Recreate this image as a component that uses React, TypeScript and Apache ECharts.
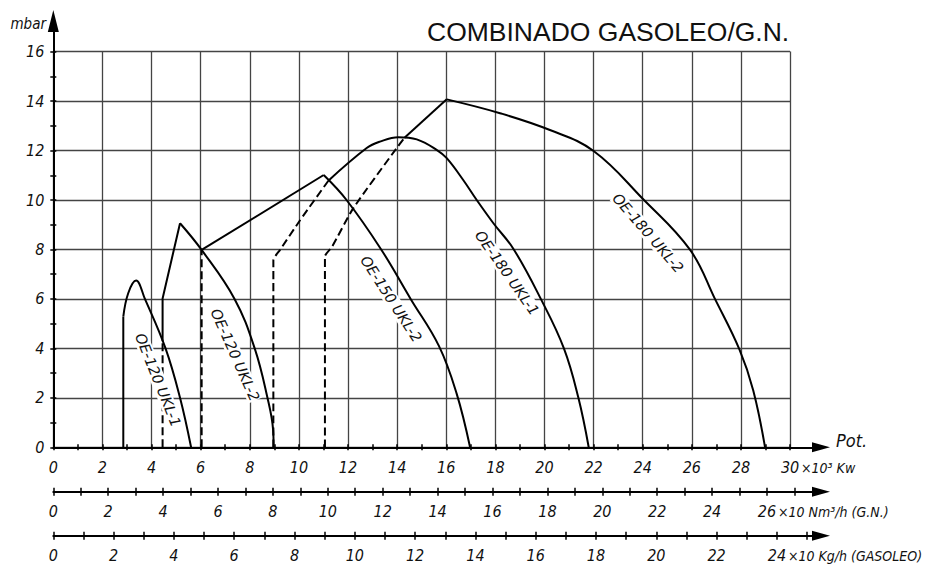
import React, { useEffect, useRef } from 'react';
import * as echarts from 'echarts';

// ---------- texts ----------
const TITLE = 'COMBINADO GASOLEO/G.N.';
const Y_UNIT = 'mbar';
const X_NAME = 'Pot.';
const KW_SUFFIX = '×10³ Kw';
const GN_SUFFIX = '×10 Nm³/h (G.N.)';
const GAS_SUFFIX = '×10 Kg/h (GASOLEO)';

// ---------- tick labels ----------
const mbarLabels = [0, 2, 4, 6, 8, 10, 12, 14, 16];
const mbarTicks = [0, 1, 2, 3, 4, 5, 6, 7, 8, 9, 10, 11, 12, 13, 14, 15, 16];
const kwLabels = [0, 2, 4, 6, 8, 10, 12, 14, 16, 18, 20, 22, 24, 26, 28, 30];
const kwTicks = [0, 1, 2, 3, 4, 5, 6, 7, 8, 9, 10, 11, 12, 13, 14, 15, 16, 17, 18, 19, 20, 21, 22, 23, 24, 25, 26, 27, 28, 29, 30];
const gnLabels = [0, 2, 4, 6, 8, 10, 12, 14, 16, 18, 20, 22, 24, 26];
const gnTicks = [0, 1, 2, 3, 4, 5, 6, 7, 8, 9, 10, 11, 12, 13, 14, 15, 16, 17, 18, 19, 20, 21, 22, 23, 24, 25, 26, 27];
const gasLabels = [0, 2, 4, 6, 8, 10, 12, 14, 16, 18, 20, 22, 24];
const gasTicks = [0, 1, 2, 3, 4, 5, 6, 7, 8, 9, 10, 11, 12, 13, 14, 15, 16, 17, 18, 19, 20, 21, 22, 23, 24, 25];

// ---------- curves: [kW x10^3, mbar] ----------
const oe120ukl1Wall = [[2.85, 0], [2.85, 5.28]];
const oe120ukl1Curve = [[2.85, 5.28], [3.05, 6.23], [3.37, 6.74], [3.73, 6.0], [4.57, 4.0], [5.16, 2.0], [5.61, 0]];

const oe120ukl2Hidden = [[4.45, 0], [4.45, 4.29]];
const oe120ukl2Rise = [[4.45, 4.29], [4.45, 6.02], [5.16, 9.06]];
const oe120ukl2Fall = [[5.16, 9.06], [6.04, 7.98], [7.38, 6.0], [8.2, 4.0], [8.72, 2.0], [8.95, 0.7], [8.97, 0]];

const oe150ukl2Hidden = [[6.04, 0], [6.04, 7.98]];
const oe150ukl2Rise = [[6.04, 7.98], [11.01, 11.01]];
const oe150ukl2Fall = [[11.01, 11.01], [11.94, 10.0], [13.35, 8.0], [14.55, 6.0], [15.7, 4.1], [16.42, 2.18], [16.97, 0]];

const oe180ukl1Hidden = [[8.96, 0], [8.96, 7.57], [9.23, 7.98], [10.04, 9.17], [11.2, 10.78]];
const oe180ukl1Curve = [[11.2, 10.78], [12.76, 12.1], [13.3, 12.36], [14.05, 12.54], [14.8, 12.45], [15.65, 12.0], [16.02, 11.69], [16.69, 10.81], [17.24, 10.0], [17.92, 9.06], [18.75, 8.0], [19.85, 6.0], [20.79, 4.0], [21.38, 2.0], [21.8, 0]];

const oe180ukl2Hidden = [[11.06, 0], [11.06, 7.71], [11.35, 8.11], [12.21, 9.66], [13.98, 12.1], [14.3, 12.52]];
const oe180ukl2Rise = [[14.3, 12.52], [16.02, 14.07]];
const oe180ukl2Fall = [[16.02, 14.07], [18.19, 13.51], [20.22, 12.83], [22.0, 11.98], [24.0, 10.05], [25.93, 7.98], [26.94, 6.0], [27.94, 3.95], [28.5, 2.3], [28.98, 0]];

// curve labels
const curveLabels = ['OE-120 UKL-1', 'OE-120 UKL-2', 'OE-150 UKL-2', 'OE-180 UKL-1', 'OE-180 UKL-2'];

// ---------- layout ----------
const LEFT = 53.3;
const BOTTOM = 447.3;
const PX_KW = 24.56;
const PX_MBAR = 24.73;
const PX_GN = 27.45;
const PX_GAS = 30.15;
const ARROW_X = 821;
const ARROW_Y = 21;
const GN_Y = 491.7;
const GAS_Y = 535.7;

const NARROW = "'Liberation Sans Narrow','DejaVu Sans Condensed','Liberation Sans',sans-serif";
const axisText = { fontFamily: NARROW, fontStyle: 'italic' as const, fontSize: 16, color: '#111' };
const ink = '#000';
const gridInk = '#444';

function tickOnly(gridIndex: number, max: number, ticks: number[], inside: boolean, len: number) {
  return {
    type: 'value', gridIndex, min: 0, max, position: 'bottom',
    axisLine: { show: false, onZero: false },
    axisTick: { show: true, customValues: ticks, inside, length: len, lineStyle: { color: ink, width: 1.5 } },
    axisLabel: { show: false },
    splitLine: { show: false },
  };
}

function mainAxis(gridIndex: number, max: number, labels: number[], ticks: number[], margin: number, len: number) {
  return {
    type: 'value', gridIndex, min: 0, max, position: 'bottom',
    axisLine: { show: true, onZero: false, symbol: ['none', 'triangle'], symbolSize: [10, 18], lineStyle: { color: ink, width: 2 } },
    axisTick: { show: true, customValues: ticks, inside: true, length: len, lineStyle: { color: ink, width: 1.5 } },
    axisLabel: { show: true, customValues: labels, margin, ...axisText },
    splitLine: { show: false },
  };
}

function line(data: number[][], dashed: boolean, smooth: number | boolean) {
  return {
    type: 'line', data, xAxisIndex: 0, yAxisIndex: 0, symbol: 'none', showSymbol: false,
    smooth, silent: true, z: 5, clip: false,
    lineStyle: { color: ink, width: 2, type: dashed ? [8, 4] : 'solid' },
  };
}

function label(text: string, x: number, y: number, deg: number) {
  return {
    type: 'text', x, y, rotation: (deg * Math.PI) / 180, z: 100,
    style: {
      text, fill: '#111', fontFamily: "'DejaVu Sans',sans-serif", fontStyle: 'italic', fontSize: 14.5,
      align: 'center', verticalAlign: 'middle', backgroundColor: '#fff',
    },
  };
}

function plainText(text: string, x: number, y: number, align: string, size: number, italic: boolean, family: string) {
  return {
    type: 'text', x, y, z: 100,
    style: { text, fill: '#111', fontFamily: family, fontStyle: italic ? 'italic' : 'normal', fontSize: size, align, verticalAlign: 'middle' },
  };
}

function buildOption() {
  const plotW = 30 * PX_KW;
  const plotH = 16 * PX_MBAR;
  const axW = ARROW_X - LEFT;
  const kwMax = axW / PX_KW;
  const mbarMax = (BOTTOM - ARROW_Y) / PX_MBAR;
  const gnMax = axW / PX_GN;
  const gasMax = axW / PX_GAS;

  return {
    animation: false,
    backgroundColor: '#fff',
    grid: [
      { left: LEFT, top: BOTTOM - plotH, width: plotW, height: plotH, outerBoundsMode: 'none' },
      { left: LEFT, top: ARROW_Y, width: axW, height: BOTTOM - ARROW_Y, outerBoundsMode: 'none' },
      { left: LEFT, top: GN_Y - 4, width: axW, height: 4, outerBoundsMode: 'none' },
      { left: LEFT, top: GAS_Y - 4, width: axW, height: 4, outerBoundsMode: 'none' },
    ],
    xAxis: [
      {
        type: 'value', gridIndex: 0, min: 0, max: 30, interval: 2,
        axisLine: { show: false }, axisTick: { show: false }, axisLabel: { show: false },
        splitLine: { show: true, lineStyle: { color: gridInk, width: 1.3 } },
      },
      mainAxis(1, kwMax, kwLabels, kwTicks, 12, 3),
      tickOnly(1, kwMax, kwTicks, false, 3),
      mainAxis(2, gnMax, gnLabels, gnTicks, 12, 4),
      tickOnly(2, gnMax, gnTicks, false, 4),
      mainAxis(3, gasMax, gasLabels, gasTicks, 12, 4),
      tickOnly(3, gasMax, gasTicks, false, 4),
    ],
    yAxis: [
      {
        type: 'value', gridIndex: 0, min: 0, max: 16, interval: 2,
        axisLine: { show: false }, axisTick: { show: false }, axisLabel: { show: false },
        splitLine: { show: true, lineStyle: { color: gridInk, width: 1.3 } },
      },
      {
        type: 'value', gridIndex: 1, min: 0, max: mbarMax, position: 'left',
        axisLine: { show: true, onZero: false, symbol: ['none', 'triangle'], symbolSize: [11, 22], lineStyle: { color: ink, width: 2 } },
        axisTick: { show: true, customValues: mbarTicks, inside: false, length: 3, lineStyle: { color: ink, width: 1.5 } },
        axisLabel: { show: true, customValues: mbarLabels, margin: 9, ...axisText },
        splitLine: { show: false },
      },
      {
        type: 'value', gridIndex: 1, min: 0, max: mbarMax, position: 'left',
        axisLine: { show: false, onZero: false },
        axisTick: { show: true, customValues: mbarTicks, inside: true, length: 3, lineStyle: { color: ink, width: 1.5 } },
        axisLabel: { show: false }, splitLine: { show: false },
      },
      { type: 'value', gridIndex: 2, min: 0, max: 1, show: false },
      { type: 'value', gridIndex: 3, min: 0, max: 1, show: false },
    ],
    series: [
      line(oe120ukl1Wall, false, false),
      line(oe120ukl1Curve, false, 0.4),
      line(oe120ukl2Hidden, true, false),
      line(oe120ukl2Rise, false, false),
      line(oe120ukl2Fall, false, 0.4),
      line(oe150ukl2Hidden, true, false),
      line(oe150ukl2Rise, false, false),
      line(oe150ukl2Fall, false, 0.4),
      line(oe180ukl1Hidden, true, 0.2),
      line(oe180ukl1Curve, false, 0.4),
      line(oe180ukl2Hidden, true, 0.2),
      line(oe180ukl2Rise, false, false),
      line(oe180ukl2Fall, false, 0.4),
    ],
    graphic: [
      plainText(TITLE, 427, 31.7, 'left', 26.5, false, "'Liberation Sans',Arial,sans-serif"),
      plainText(Y_UNIT, 46, 24, 'right', 15, true, NARROW),
      plainText(X_NAME, 836, 440, 'left', 18, true, NARROW),
      plainText(KW_SUFFIX, 801, 468, 'left', 14, true, NARROW),
      plainText(GN_SUFFIX, 778, 512, 'left', 14, true, NARROW),
      plainText(GAS_SUFFIX, 788, 556, 'left', 14, true, NARROW),
      label(curveLabels[0], 158, 380, -68),
      label(curveLabels[1], 235, 355, -66),
      label(curveLabels[2], 391, 299, -57),
      label(curveLabels[3], 507, 273, -55),
      label(curveLabels[4], 648, 233, -49),
    ],
  };
}

export default function App() {
  const ref = useRef<HTMLDivElement>(null);
  useEffect(() => {
    if (!ref.current) return;
    const chart = echarts.init(ref.current, undefined, { renderer: 'svg' });
    chart.setOption(buildOption() as any);
    return () => chart.dispose();
  }, []);
  return (
    <div
      ref={ref}
      style={{ position: 'absolute', left: 0, top: 0, width: 928, height: 567, background: '#fff' }}
    />
  );
}
